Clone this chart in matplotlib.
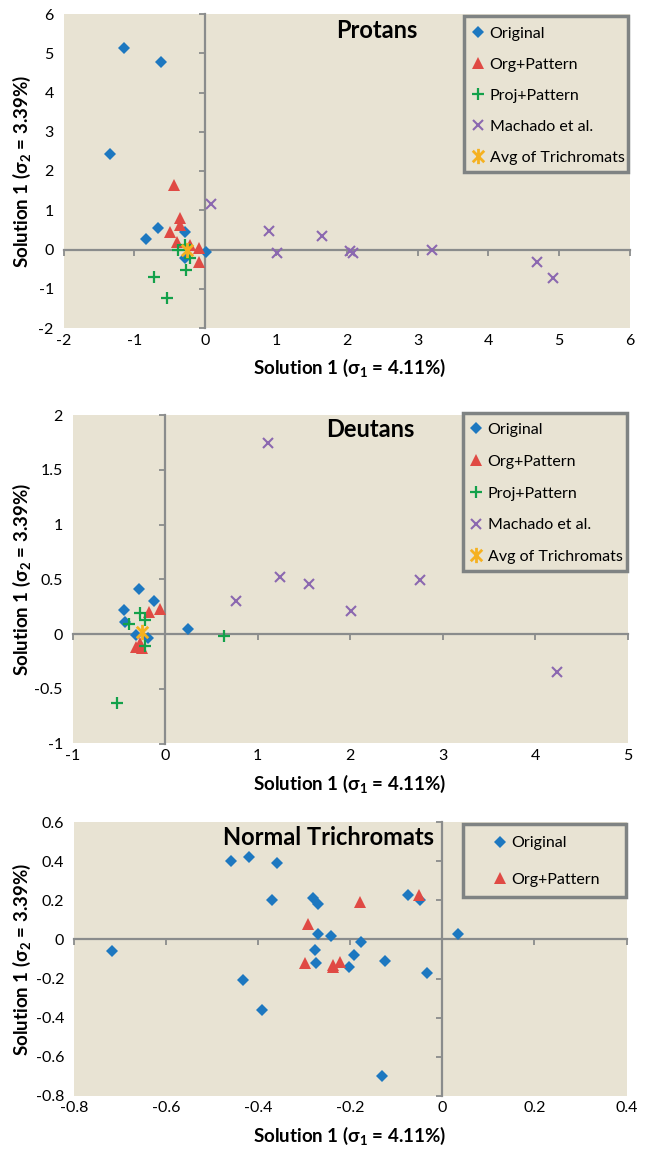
import matplotlib
matplotlib.use('Agg')
import matplotlib.pyplot as plt
from matplotlib.path import Path
from matplotlib.patches import Rectangle
from matplotlib.ticker import FuncFormatter

plt.rcParams['font.family'] = ['Lato', 'DejaVu Sans']
plt.rcParams['mathtext.fontset'] = 'custom'
plt.rcParams['mathtext.rm'] = 'Lato'
plt.rcParams['mathtext.bf'] = 'Lato:bold'
plt.rcParams['axes.unicode_minus'] = False

# ---- Protans ----
pro_orig_x = [-1.14, -0.63, -1.34, -0.67, -0.83, -0.28, 0.01, -0.28]
pro_orig_y = [5.13, 4.77, 2.43, 0.56, 0.28, 0.45, -0.07, -0.22]
pro_orgp_x = [-0.44, -0.35, -0.35, -0.50, -0.40, -0.21, -0.09, -0.08]
pro_orgp_y = [1.64, 0.79, 0.62, 0.45, 0.20, 0.11, 0.03, -0.31]
pro_proj_x = [-0.72, -0.54, -0.27, -0.22, -0.38, -0.28]
pro_proj_y = [-0.69, -1.24, -0.52, -0.22, -0.01, 0.11]
pro_mach_x = [0.09, 0.90, 1.01, 1.65, 2.05, 2.09, 3.21, 4.68, 4.91]
pro_mach_y = [1.15, 0.47, -0.10, 0.34, -0.04, -0.10, -0.01, -0.31, -0.73]
pro_avg_x = [-0.25]
pro_avg_y = [-0.01]

# ---- Deutans ----
deu_orig_x = [-0.28, -0.12, -0.44, -0.43, 0.25, -0.31, -0.18]
deu_orig_y = [0.41, 0.30, 0.22, 0.11, 0.05, -0.01, -0.04]
deu_orgp_x = [-0.05, -0.17, -0.31, -0.25, -0.27]
deu_orgp_y = [0.23, 0.20, -0.12, -0.13, -0.08]
deu_proj_x = [-0.27, -0.22, -0.39, -0.22, 0.64, -0.52]
deu_proj_y = [0.19, 0.13, 0.09, -0.11, -0.02, -0.63]
deu_mach_x = [1.11, 1.24, 1.56, 2.01, 2.76, 4.24, 0.77]
deu_mach_y = [1.74, 0.52, 0.46, 0.21, 0.49, -0.35, 0.30]
deu_avg_x = [-0.25]
deu_avg_y = [0.02]

# ---- Normal Trichromats ----
nor_orig_x = [-0.718, -0.459, -0.420, -0.360, -0.369, -0.280, -0.271, -0.269,
              -0.242, -0.276, -0.274, -0.177, -0.192, -0.203, -0.124, -0.434,
              -0.392, -0.132, -0.075, -0.048, -0.033, 0.033]
nor_orig_y = [-0.06, 0.40, 0.42, 0.39, 0.20, 0.21, 0.18, 0.03,
              0.02, -0.055, -0.12, -0.015, -0.08, -0.14, -0.11, -0.21,
              -0.36, -0.70, 0.23, 0.20, -0.17, 0.03]
nor_orgp_x = [-0.291, -0.179, -0.051, -0.298, -0.237, -0.222, -0.238]
nor_orgp_y = [0.077, 0.19, 0.23, -0.12, -0.13, -0.115, -0.14]

labels = ['Original', 'Org+Pattern', 'Proj+Pattern', 'Machado et al.', 'Avg of Trichromats']
xlabel = r'Solution 1 (σ$_\mathbf{1}$ = 4.11%)'
ylabel = r'Solution 1 (σ$_\mathbf{2}$ = 3.39%)'

BG = '#e8e3d3'
AXC = '#8a8c8c'
star = Path([(0, -1), (0, 1), (-0.75, -0.75), (0.75, 0.75), (-0.75, 0.75), (0.75, -0.75)],
            [Path.MOVETO, Path.LINETO] * 3)

styles = [
    dict(marker='D', color='#1d78c0', ms=6, mew=0),
    dict(marker='^', color='#e04a44', ms=8.5, mew=0),
    dict(marker='+', color='#13a14a', ms=8, mew=1.6),
    dict(marker='x', color='#8b68b0', ms=7.5, mew=1.5),
    dict(marker=star, color='#f5b120', ms=11, mew=2),
]

fmt = FuncFormatter(lambda v, p: '%g' % round(v, 2))

fig = plt.figure(figsize=(6.49, 11.51), dpi=100)
W, H = 649.0, 1151.0


def panel(box, xlim, ylim, xticks, yticks, series, title, title_pos, frame, leg_at, spacing):
    l, t, r, b = box
    ax = fig.add_axes([l / W, 1 - b / H, (r - l) / W, (b - t) / H])
    ax.set_facecolor(BG)
    ax.set_xlim(xlim)
    ax.set_ylim(ylim)
    for s in ['top', 'right']:
        ax.spines[s].set_visible(False)
    ax.spines['bottom'].set_position(('data', 0))
    ax.spines['left'].set_position(('data', 0))
    for s in ['bottom', 'left']:
        ax.spines[s].set_color(AXC)
        ax.spines[s].set_linewidth(1.6)
        ax.spines[s].set_zorder(1)
    ax.set_xticks(xticks)
    ax.set_yticks(yticks)
    ax.tick_params(direction='out', length=4, width=1.3, color=AXC,
                   labelbottom=False, labelleft=False)
    ax.set_axisbelow(True)

    sx = ax.secondary_xaxis('bottom')
    sx.set_xticks(xticks)
    sx.xaxis.set_major_formatter(fmt)
    sx.spines['bottom'].set_visible(False)
    sx.tick_params(length=0, pad=4, labelsize=11.5)
    sy = ax.secondary_yaxis('left')
    sy.set_yticks(yticks)
    sy.yaxis.set_major_formatter(fmt)
    sy.spines['left'].set_visible(False)
    sy.tick_params(length=0, pad=7, labelsize=11.5)

    handles = []
    for (xs, ys), st, lab in zip(series, styles, labels):
        h, = ax.plot(xs, ys, ls='none', marker=st['marker'], color=st['color'],
                     ms=st['ms'], mew=st['mew'], zorder=3, label=lab, clip_on=False)
        handles.append(h)

    ax.text(title_pos[0], title_pos[1], title, transform=ax.transAxes,
            ha='center', va='center', fontsize=17, fontweight='bold')

    fx0, fy0, fx1, fy1 = frame
    ax.add_patch(Rectangle((fx0, fy0), fx1 - fx0, fy1 - fy0, transform=ax.transAxes,
                           facecolor=BG, edgecolor='#7f8383', lw=2.5, zorder=4,
                           clip_on=False))
    leg = ax.legend(handles=handles, loc='upper left', bbox_to_anchor=leg_at,
                    frameon=False, borderpad=0, borderaxespad=0, numpoints=1,
                    handlelength=0.8, handletextpad=0.3, labelspacing=spacing,
                    fontsize=11.5)
    leg.set_zorder(5)

    fig.text(350 / W, 1 - (b + 40) / H, xlabel, ha='center', va='center',
             fontsize=13.5, fontweight='bold')
    fig.text(22 / W, 1 - (t + b) / 2 / H, ylabel, ha='center', va='center',
             rotation=90, fontsize=13.5, fontweight='bold')
    return ax


panel((63.5, 14, 630, 328), (-2, 6), (-2, 6), range(-2, 7), range(-2, 7),
      [(pro_orig_x, pro_orig_y), (pro_orgp_x, pro_orgp_y), (pro_proj_x, pro_proj_y),
       (pro_mach_x, pro_mach_y), (pro_avg_x, pro_avg_y)],
      'Protans', (0.553, 0.949), (0.707, 0.498, 0.997, 0.995), (0.721, 0.959), 1.05)

panel((72.5, 415, 627.7, 743.5), (-1, 5), (-1, 2), range(-1, 6),
      [-1, -0.5, 0, 0.5, 1, 1.5, 2],
      [(deu_orig_x, deu_orig_y), (deu_orgp_x, deu_orgp_y), (deu_proj_x, deu_proj_y),
       (deu_mach_x, deu_mach_y), (deu_avg_x, deu_avg_y)],
      'Deutans', (0.536, 0.957), (0.704, 0.526, 0.999, 1.007), (0.716, 0.976), 1.1)

panel((74, 822.3, 626.5, 1095.7), (-0.8, 0.4), (-0.8, 0.6),
      [-0.8, -0.6, -0.4, -0.2, 0, 0.2, 0.4],
      [-0.8, -0.6, -0.4, -0.2, 0, 0.2, 0.4, 0.6],
      [(nor_orig_x, nor_orig_y), (nor_orgp_x, nor_orgp_y)],
      'Normal Trichromats', (0.4615, 0.945), (0.7035, 0.728, 0.999, 0.994),
      (0.760, 0.950), 1.42)

fig.savefig('out.png', dpi=100, facecolor='white')
